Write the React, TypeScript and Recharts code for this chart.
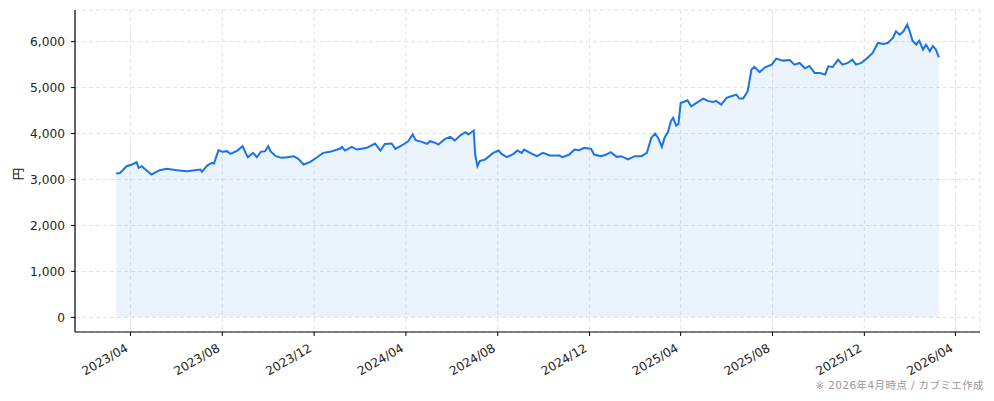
import React from 'react';
import {
  Area,
  CartesianGrid,
  ComposedChart,
  Line,
  XAxis,
  YAxis,
} from 'recharts';

const dates = [
  '2023-03-13', '2023-03-18', '2023-03-27', '2023-04-03', '2023-04-09', '2023-04-12',
  '2023-04-16', '2023-04-21', '2023-04-29', '2023-05-10', '2023-05-19', '2023-06-02',
  '2023-06-15', '2023-07-03', '2023-07-05', '2023-07-12', '2023-07-18', '2023-07-21',
  '2023-07-27', '2023-08-01', '2023-08-07', '2023-08-12', '2023-08-21', '2023-08-28',
  '2023-09-01', '2023-09-04', '2023-09-11', '2023-09-16', '2023-09-21', '2023-09-27',
  '2023-10-01', '2023-10-04', '2023-10-11', '2023-10-19', '2023-10-26', '2023-11-04',
  '2023-11-10', '2023-11-17', '2023-11-26', '2023-12-05', '2023-12-13', '2023-12-22',
  '2024-01-05', '2024-01-07', '2024-01-11', '2024-01-20', '2024-01-27', '2024-02-09',
  '2024-02-20', '2024-02-27', '2024-03-04', '2024-03-13', '2024-03-18', '2024-03-27',
  '2024-04-04', '2024-04-10', '2024-04-14', '2024-04-22', '2024-04-29', '2024-05-03',
  '2024-05-10', '2024-05-14', '2024-05-23', '2024-05-30', '2024-06-05', '2024-06-12',
  '2024-06-19', '2024-06-23', '2024-06-30', '2024-07-02', '2024-07-05', '2024-07-08',
  '2024-07-15', '2024-07-26', '2024-08-02', '2024-08-06', '2024-08-13', '2024-08-22',
  '2024-08-27', '2024-09-02', '2024-09-05', '2024-09-13', '2024-09-22', '2024-09-30',
  '2024-10-09', '2024-10-22', '2024-10-26', '2024-11-04', '2024-11-11', '2024-11-17',
  '2024-11-24', '2024-12-03', '2024-12-07', '2024-12-16', '2024-12-23', '2024-12-29',
  '2025-01-06', '2025-01-12', '2025-01-21', '2025-01-30', '2025-02-08', '2025-02-15',
  '2025-02-21', '2025-02-26', '2025-03-02', '2025-03-07', '2025-03-11', '2025-03-15',
  '2025-03-19', '2025-03-22', '2025-03-26', '2025-03-29', '2025-04-01', '2025-04-04',
  '2025-04-10', '2025-04-15', '2025-04-22', '2025-05-01', '2025-05-07', '2025-05-14',
  '2025-05-18', '2025-05-25', '2025-06-01', '2025-06-07', '2025-06-14', '2025-06-18',
  '2025-06-23', '2025-06-29', '2025-07-04', '2025-07-08', '2025-07-15', '2025-07-22',
  '2025-07-31', '2025-08-06', '2025-08-15', '2025-08-24', '2025-08-30', '2025-09-06',
  '2025-09-13', '2025-09-19', '2025-09-26', '2025-10-03', '2025-10-10', '2025-10-14',
  '2025-10-20', '2025-10-27', '2025-11-02', '2025-11-09', '2025-11-15', '2025-11-20',
  '2025-11-27', '2025-12-06', '2025-12-12', '2025-12-19', '2025-12-26', '2026-01-01',
  '2026-01-08', '2026-01-12', '2026-01-17', '2026-01-22', '2026-01-27', '2026-01-30',
  '2026-02-03', '2026-02-08', '2026-02-12', '2026-02-17', '2026-02-21', '2026-02-26',
  '2026-03-02', '2026-03-06', '2026-03-10',
];

const prices = [
  3130, 3140, 3290, 3326, 3377, 3254,
  3290, 3217, 3109, 3203, 3232, 3203,
  3181, 3217, 3167, 3304, 3362, 3348,
  3638, 3602, 3617, 3558, 3630, 3725,
  3580, 3485, 3580, 3485, 3602, 3617,
  3725, 3617, 3507, 3471, 3485, 3507,
  3449, 3326, 3384, 3485, 3580, 3602,
  3674, 3710, 3630, 3710, 3652, 3690,
  3783, 3630, 3775, 3783, 3667, 3746,
  3833, 3978, 3855, 3819, 3775, 3833,
  3797, 3761, 3884, 3928, 3848, 3957,
  4028, 3978, 4065, 3543, 3290, 3399,
  3435, 3580, 3630, 3558, 3485, 3558,
  3630, 3580, 3652, 3580, 3507, 3580,
  3522, 3522, 3485, 3543, 3652, 3638,
  3688, 3667, 3543, 3507, 3543, 3594,
  3493, 3507, 3435, 3507, 3507, 3580,
  3906, 4000, 3906, 3710, 3928, 4029,
  4268, 4341, 4174, 4210, 4667, 4681,
  4724, 4594, 4667, 4761, 4710, 4688,
  4710, 4630, 4775, 4812, 4848, 4761,
  4761, 4920, 5391, 5449, 5337, 5440,
  5500, 5630, 5587, 5600, 5500, 5536,
  5420, 5471, 5319, 5319, 5283, 5463,
  5449, 5609, 5500, 5536, 5609, 5500,
  5536, 5659, 5754, 5971, 5950, 5971,
  6080, 6224, 6152, 6224, 6370, 6239,
  6022, 5935, 6022, 5826, 5935, 5790,
  5906, 5826, 5659,
];

const xTickLabels = [
  '2023/04', '2023/08', '2023/12', '2024/04', '2024/08',
  '2024/12', '2025/04', '2025/08', '2025/12', '2026/04',
];

const yTicks = [0, 1000, 2000, 3000, 4000, 5000, 6000];

const BLUE = '#1a73e8';
const FONT = '"DejaVu Sans", "Noto Sans CJK JP", sans-serif';

const toTime = (s: string) => Date.parse(s);
const labelToTime = (l: string) => Date.parse(l.replace('/', '-') + '-01');

const data = dates.map((d, i) => ({ t: toTime(d), price: prices[i] }));

// matplotlib-style 5% margins
const tMin = data[0].t;
const tMax = data[data.length - 1].t;
const tPad = (tMax - tMin) * 0.05;
const yMax = Math.max(...prices);
const yPad = yMax * 0.05;

const xTicks = xTickLabels.map(labelToTime);
const fmtMonth = (v: number) => {
  const d = new Date(v);
  return `${d.getUTCFullYear()}/${String(d.getUTCMonth() + 1).padStart(2, '0')}`;
};

const RotatedTick = ({ x, y, payload }: any) => (
  <text
    x={x - 1.5}
    y={y + 12.5}
    transform={`rotate(-30 ${x - 1.5} ${y + 12.5})`}
    textAnchor="end"
    fontSize={12.2}
    fill="#222"
    fontFamily={FONT}>
    {fmtMonth(payload.value)}
  </text>
);

export default function App() {
  return (
    <div
      style={{
        position: 'absolute',
        left: 0,
        top: 0,
        width: 994,
        height: 401,
        background: '#fff',
        fontFamily: FONT,
      }}>
      <ComposedChart
        width={994}
        height={401}
        data={data}
        margin={{ top: 10, right: 14, left: 0, bottom: 0 }}>
        <CartesianGrid stroke="#e2e2e2" strokeDasharray="4 3" />
        <XAxis
          dataKey="t"
          type="number"
          scale="linear"
          domain={[tMin - tPad, tMax + tPad]}
          ticks={xTicks}
          interval={0}
          tick={<RotatedTick />}
          height={69}
          tickSize={4}
          stroke="#000"
          axisLine={{ stroke: '#000', strokeWidth: 1.2 }}
          tickLine={{ stroke: '#000' }}
          allowDataOverflow
        />
        <YAxis
          type="number"
          domain={[-yPad, yMax + yPad]}
          ticks={yTicks}
          interval={0}
          width={75}
          tickSize={4}
          tickMargin={6}
          stroke="#000"
          axisLine={{ stroke: '#000', strokeWidth: 1.2 }}
          tickLine={{ stroke: '#000' }}
          tick={{ fontSize: 12.2, fill: '#222', fontFamily: FONT }}
          tickFormatter={(v) => v.toLocaleString('en-US')}
          allowDataOverflow
          label={{
            content: () => (
              <text
                x={17}
                y={174}
                transform="rotate(-90 17 174)"
                textAnchor="middle"
                dominantBaseline="central"
                fontSize={12.5}
                fill="#222"
                fontFamily='"Noto Sans CJK JP", sans-serif'>
                円
              </text>
            ),
          }}
        />
        <Area
          dataKey="price"
          type="linear"
          baseValue={0}
          stroke={BLUE}
          strokeOpacity={0.08}
          strokeWidth={1}
          fill={BLUE}
          fillOpacity={0.085}
          isAnimationActive={false}
        />
        <Line
          dataKey="price"
          type="linear"
          stroke={BLUE}
          strokeWidth={2}
          dot={false}
          isAnimationActive={false}
        />
      </ComposedChart>
      <div
        style={{
          position: 'absolute',
          right: 10,
          top: 377,
          fontSize: 10.5,
          color: '#999',
          whiteSpace: 'nowrap',
          letterSpacing: 0.4,
        }}>
        ※ 2026年4月時点 / カブミエ作成
      </div>
    </div>
  );
}
